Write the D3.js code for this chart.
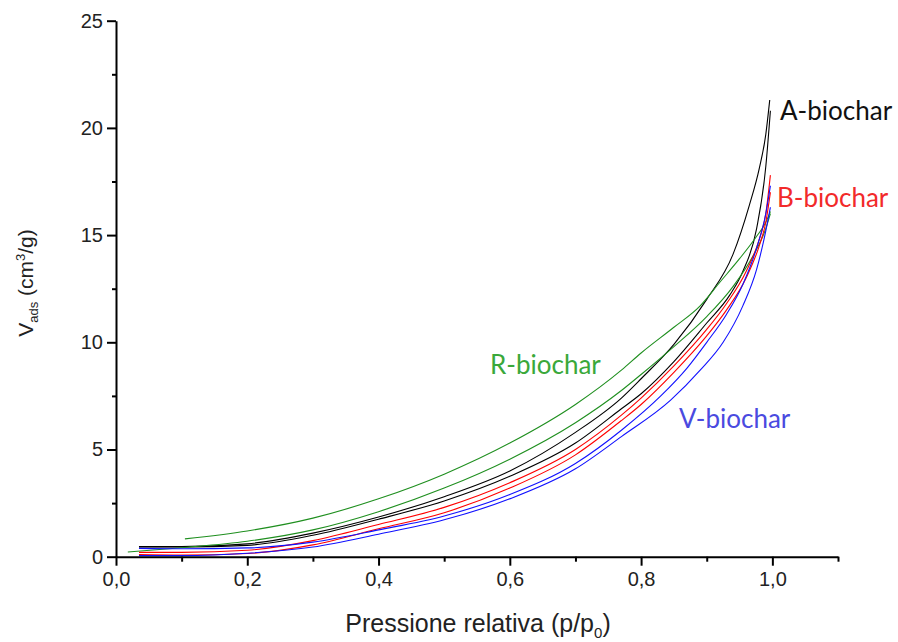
<!DOCTYPE html>
<html>
<head>
<meta charset="utf-8">
<script src="https://cdn.jsdelivr.net/npm/d3@7"></script>
<style>
  html, body { margin: 0; padding: 0; background: #fff; }
  svg { display: block; }
  text { font-family: "Liberation Sans", Arial, sans-serif; }
  .lbl { font-family: Lato, "Open Sans", sans-serif; }
</style>
</head>
<body>
<svg id="chart" width="898" height="642"></svg>
<script>
// Nitrogen isotherms (adsorption + desorption branch) for four biochars
const samples = ["A-biochar", "B-biochar", "R-biochar", "V-biochar"];
const lineColors = ["#000000", "#ff0000", "#1f8f1f", "#1010ff"];
const labelColors = ["#111111", "#f22a2a", "#3aa83a", "#4a4ae0"];

// relative pressure p/p0 and adsorbed volume (cm3/g)
const A_ads_p = [0.035, 0.10, 0.20, 0.30, 0.40, 0.50, 0.60, 0.70, 0.77, 0.80, 0.85, 0.90, 0.935, 0.955, 0.976, 0.99, 0.997];
const A_ads_v = [0.45, 0.45, 0.53, 1.00, 1.75, 2.60, 3.75, 5.30, 6.90, 7.60, 9.10, 10.9, 12.2, 13.3, 15.3, 18.2, 20.8];
const A_des_p = [0.035, 0.10, 0.20, 0.30, 0.40, 0.50, 0.60, 0.70, 0.77, 0.80, 0.85, 0.90, 0.94, 0.965, 0.98, 0.99, 0.996];
const A_des_v = [0.47, 0.47, 0.60, 1.10, 1.85, 2.80, 4.00, 5.80, 7.40, 8.30, 9.90, 12.0, 14.1, 16.4, 18.1, 19.7, 21.3];

const B_ads_p = [0.035, 0.10, 0.20, 0.30, 0.40, 0.50, 0.60, 0.70, 0.77, 0.80, 0.85, 0.90, 0.93, 0.96, 0.98, 0.99, 0.997];
const B_ads_v = [0.10, 0.08, 0.15, 0.55, 1.30, 2.05, 3.20, 4.75, 6.35, 7.10, 8.60, 10.3, 11.5, 13.0, 14.5, 15.6, 17.0];
const B_des_p = [0.035, 0.10, 0.20, 0.30, 0.40, 0.50, 0.60, 0.70, 0.77, 0.80, 0.85, 0.90, 0.93, 0.96, 0.98, 0.99, 0.997];
const B_des_v = [0.20, 0.20, 0.30, 0.75, 1.50, 2.30, 3.45, 5.00, 6.60, 7.40, 8.90, 10.6, 11.8, 13.3, 14.8, 16.0, 17.8];

const R_ads_p = [0.018, 0.10, 0.20, 0.30, 0.40, 0.50, 0.60, 0.70, 0.77, 0.80, 0.85, 0.90, 0.94, 0.97, 0.99, 0.997];
const R_ads_v = [0.22, 0.42, 0.72, 1.25, 2.10, 3.20, 4.55, 6.25, 7.75, 8.50, 9.80, 11.2, 12.6, 14.0, 15.3, 16.0];
const R_des_p = [0.105, 0.20, 0.30, 0.40, 0.50, 0.60, 0.70, 0.77, 0.80, 0.85, 0.89, 0.92, 0.95, 0.975, 0.99, 0.997];
const R_des_v = [0.83, 1.20, 1.80, 2.70, 3.85, 5.30, 7.10, 8.70, 9.50, 10.7, 11.7, 12.8, 13.9, 14.9, 15.6, 16.1];

const V_ads_p = [0.035, 0.10, 0.20, 0.30, 0.40, 0.50, 0.60, 0.70, 0.77, 0.845, 0.89, 0.925, 0.955, 0.976, 0.99, 0.997];
const V_ads_v = [0.05, 0.05, 0.16, 0.45, 1.05, 1.72, 2.70, 4.10, 5.60, 7.30, 8.70, 10.0, 11.7, 13.4, 15.2, 16.3];
const V_des_p = [0.035, 0.10, 0.20, 0.30, 0.40, 0.50, 0.60, 0.70, 0.77, 0.83, 0.87, 0.90, 0.93, 0.955, 0.975, 0.99, 0.997];
const V_des_v = [0.39, 0.37, 0.41, 0.68, 1.25, 1.90, 2.90, 4.35, 5.90, 7.50, 8.80, 10.0, 11.3, 12.7, 14.3, 16.0, 17.3];

const xTicks = [0, 0.2, 0.4, 0.6, 0.8, 1.0];
const xMinor = [0.1, 0.3, 0.5, 0.7, 0.9, 1.1];
const yTicks = [0, 5, 10, 15, 20, 25];
const yMinor = [2.5, 7.5, 12.5, 17.5, 22.5];

const branches = [
  {s: 0, p: A_ads_p, v: A_ads_v}, {s: 0, p: A_des_p, v: A_des_v},
  {s: 2, p: R_ads_p, v: R_ads_v}, {s: 2, p: R_des_p, v: R_des_v},
  {s: 1, p: B_ads_p, v: B_ads_v}, {s: 1, p: B_des_p, v: B_des_v},
  {s: 3, p: V_ads_p, v: V_ads_v}, {s: 3, p: V_des_p, v: V_des_v}
];

const svg = d3.select("#chart");
const x = d3.scaleLinear().domain([0, 1.1]).range([116, 838]);
const y = d3.scaleLinear().domain([0, 25]).range([556.7, 20.7]);
const fmt = d => d3.format(".1f")(d).replace(".", ",");

// curves
const line = d3.line().x(d => x(d[0])).y(d => y(d[1])).curve(d3.curveMonotoneX);
svg.append("g").selectAll("path").data(branches).join("path")
  .attr("d", b => line(b.p.map((p, i) => [p, b.v[i]])))
  .attr("fill", "none")
  .attr("stroke", b => lineColors[b.s])
  .attr("stroke-width", 1.1);

// axes
svg.append("g").attr("transform", `translate(0,${y(0)})`)
  .call(d3.axisBottom(x).tickValues(xTicks).tickFormat(fmt).tickSize(9).tickSizeOuter(0).tickPadding(6));
svg.append("g").attr("transform", `translate(0,${y(0)})`)
  .call(d3.axisBottom(x).tickValues(xMinor).tickFormat("").tickSize(5).tickSizeOuter(0))
  .select(".domain").remove();
svg.append("g").attr("transform", `translate(${x(0)},0)`)
  .call(d3.axisLeft(y).tickValues(yTicks).tickSize(9).tickSizeOuter(0).tickPadding(4));
svg.append("g").attr("transform", `translate(${x(0)},0)`)
  .call(d3.axisLeft(y).tickValues(yMinor).tickFormat("").tickSize(4).tickSizeOuter(0))
  .select(".domain").remove();

svg.selectAll(".domain").attr("stroke", "#000").attr("stroke-width", 2);
svg.selectAll(".tick line").attr("stroke", "#000").attr("stroke-width", 2);
svg.selectAll(".tick text").attr("font-size", 20).attr("fill", "#222")
  .attr("font-family", "'Liberation Sans', Arial, sans-serif");

// axis titles
const xt = svg.append("text").attr("x", 478).attr("y", 632).attr("text-anchor", "middle")
  .attr("font-size", 25).attr("fill", "#222");
xt.append("tspan").text("Pressione relativa (p/p");
xt.append("tspan").attr("font-size", 15).attr("dy", 6).text("0");
xt.append("tspan").attr("dy", -6).text(")");

const yt = svg.append("text").attr("transform", "translate(33,283) rotate(-90)")
  .attr("text-anchor", "middle").attr("font-size", 21).attr("fill", "#222");
yt.append("tspan").text("V");
yt.append("tspan").attr("font-size", 13).attr("dy", 5).text("ads");
yt.append("tspan").attr("dy", -5).text(" (cm");
yt.append("tspan").attr("font-size", 13).attr("dy", -8).text("3");
yt.append("tspan").attr("dy", 8).text("/g)");

// series labels
const labelPos = [[780, 111], [777, 198], [490, 365], [679, 419]];
svg.append("g").selectAll("text").data(samples).join("text")
  .attr("class", "lbl")
  .attr("x", (d, i) => labelPos[i][0]).attr("y", (d, i) => labelPos[i][1])
  .attr("dy", "0.35em")
  .attr("font-size", 26)
  .attr("fill", (d, i) => labelColors[i])
  .text(d => d);
</script>
</body>
</html>
